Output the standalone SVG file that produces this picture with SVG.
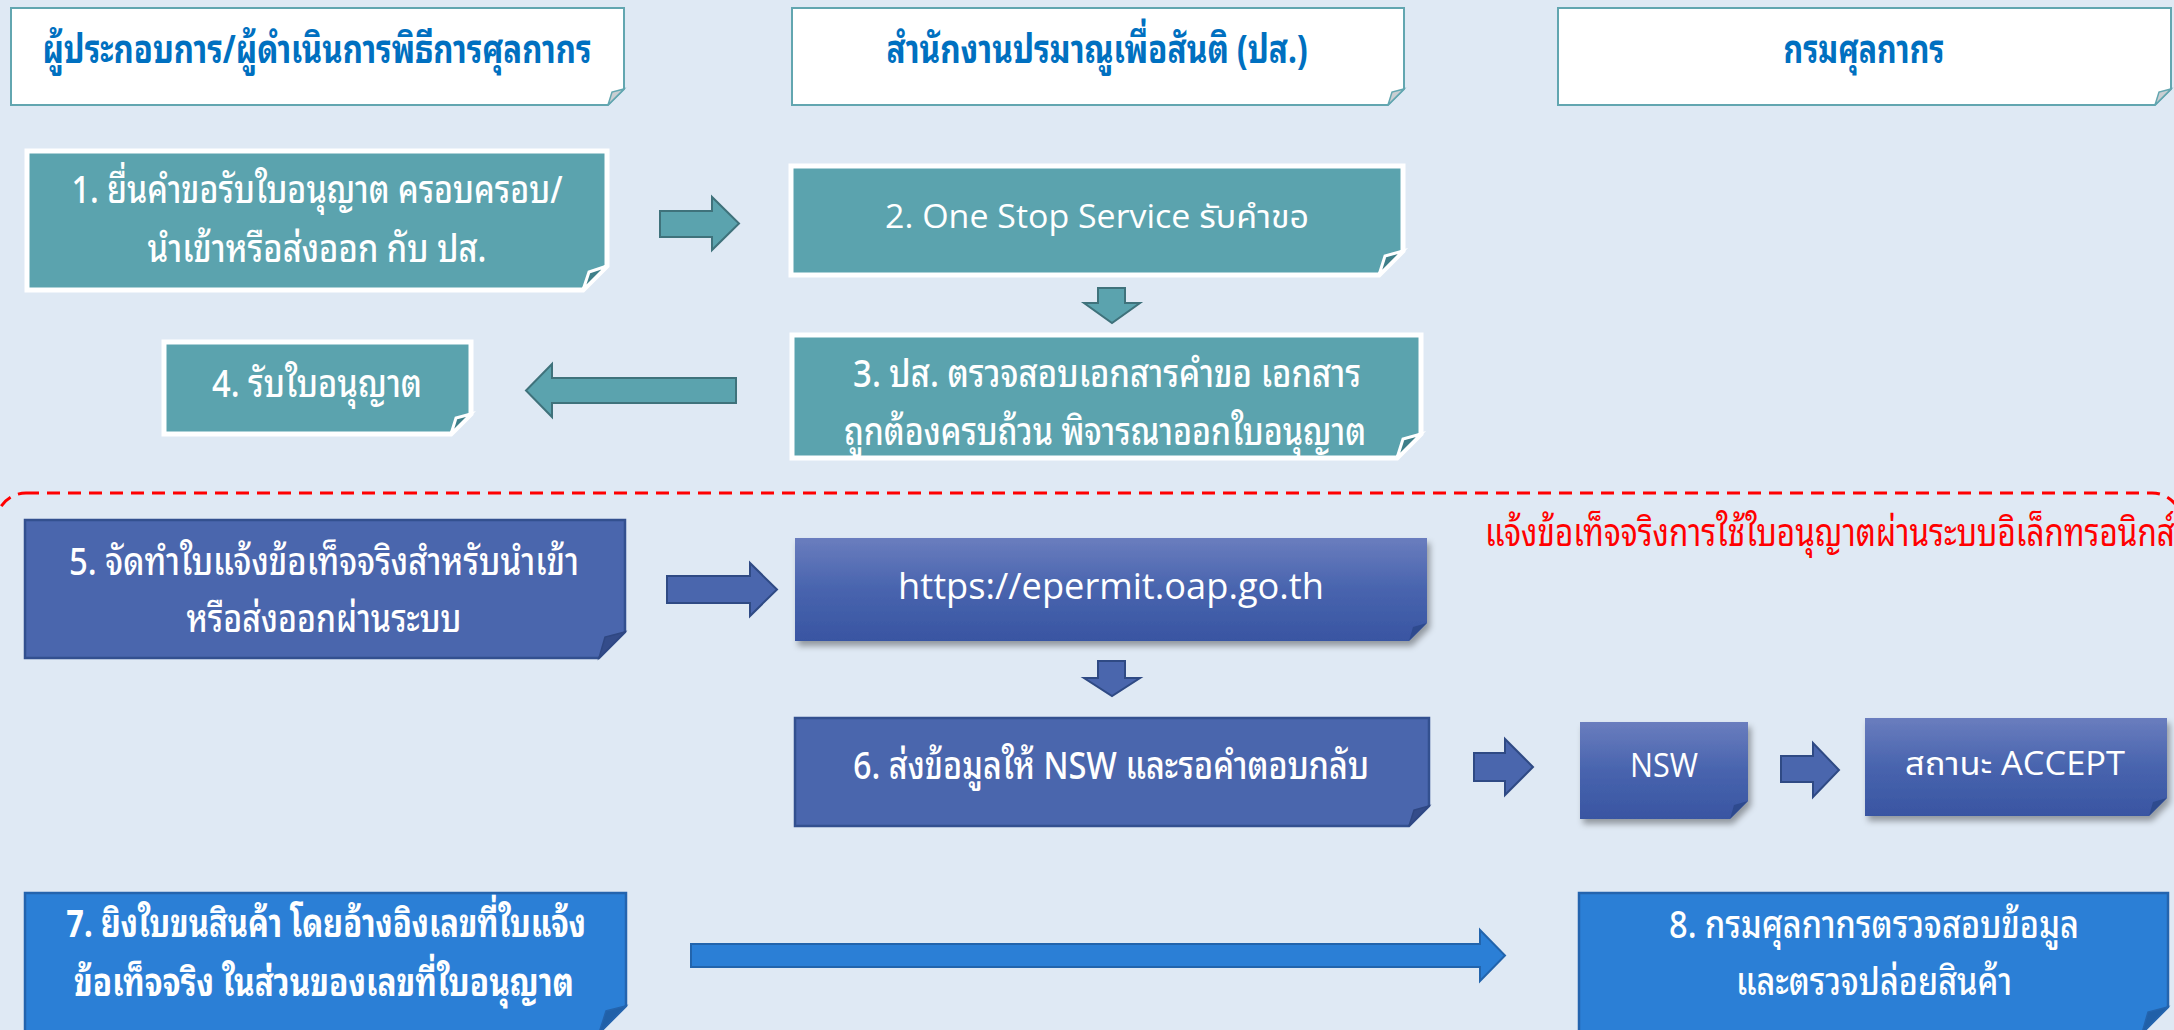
<svg xmlns="http://www.w3.org/2000/svg" width="2174" height="1030" viewBox="0 0 2174 1030">
<defs>
<linearGradient id="g" x1="0" y1="0" x2="0" y2="1">
<stop offset="0" stop-color="#6A7DBE"/>
<stop offset="0.5" stop-color="#4864AE"/>
<stop offset="1" stop-color="#3955A2"/>
</linearGradient>
<filter id="sh" x="-10%" y="-10%" width="120%" height="130%">
<feDropShadow dx="3" dy="5" stdDeviation="3" flood-color="#000" flood-opacity="0.35"/>
</filter>
<style>
.hdr{fill:#fff;stroke:#62A6B0;stroke-width:2}
.hflap{fill:#C9CED2;stroke:#62A6B0;stroke-width:1.5}
.teal{fill:#5BA3AE;stroke:#fff;stroke-width:5}
.tflap{fill:#3F7F89;stroke:#fff;stroke-width:3}
.blue{fill:#4A66AD;stroke:#33508F;stroke-width:2.5}
.bflap{fill:#344C8A;stroke:#2F4782;stroke-width:1.5}
.grad{fill:url(#g);filter:url(#sh)}
.gflap{fill:#2E4A8E}
.brt{fill:#2B7FD6;stroke:#2464AE;stroke-width:2.5}
.brflap{fill:#2060A8;stroke:#2464AE;stroke-width:1.5}
.arT{fill:#5BA3AE;stroke:#3F727B;stroke-width:2}
.arB{fill:#4A66AD;stroke:#2F4A84;stroke-width:2}
.arC{fill:#2B7FD6;stroke:#2264AC;stroke-width:2}
.th{font-family:'Noto Sans Thai Looped','Noto Sans Thai','Noto Sans','DejaVu Sans',sans-serif}
.lat{font-family:'Open Sans','Noto Sans Thai','Noto Sans',sans-serif}
.ht{fill:#0070C0;font-size:40px;font-weight:bold;text-anchor:middle}
.wt{fill:#fff;font-size:38px;font-weight:500;text-anchor:middle}
.wl{fill:#fff;font-size:32px;text-anchor:middle}
.bold{font-weight:bold}
.red{fill:#FF0000;font-size:38px}
</style>
</defs>
<rect x="0" y="0" width="2174" height="1030" fill="#DFE9F4"/>

<g id="dashed-region">
<rect x="-4" y="493" width="2186" height="700" rx="30" ry="30" fill="none" stroke="#FF0000" stroke-width="3" stroke-dasharray="13 8"/>
<text class="th red" x="1485" y="546" textLength="690" lengthAdjust="spacingAndGlyphs">แจ้งข้อเท็จจริงการใช้ใบอนุญาตผ่านระบบอิเล็กทรอนิกส์</text>
</g>

<g id="header-1">
<path class="hdr" d="M11,8 H624 V89 L608,105 H11 Z"/>
<path class="hflap" d="M624,89 L608,105 L612,92 Z"/>
<text class="th ht" x="317" y="63" textLength="549" lengthAdjust="spacingAndGlyphs">ผู้ประกอบการ/ผู้ดำเนินการพิธีการศุลกากร</text>
</g>
<g id="header-2">
<path class="hdr" d="M792,8 H1404 V89 L1388,105 H792 Z"/>
<path class="hflap" d="M1404,89 L1388,105 L1392,92 Z"/>
<text class="th ht" x="1097" y="63" textLength="421" lengthAdjust="spacingAndGlyphs">สำนักงานปรมาณูเพื่อสันติ (ปส.)</text>
</g>
<g id="header-3">
<path class="hdr" d="M1558,8 H2171 V89 L2155,105 H1558 Z"/>
<path class="hflap" d="M2171,89 L2155,105 L2159,92 Z"/>
<text class="th ht" x="1864" y="63" textLength="161" lengthAdjust="spacingAndGlyphs">กรมศุลกากร</text>
</g>

<g id="step-1">
<path class="teal" d="M27,151 H607 V266 L583,290 H27 Z"/>
<path class="tflap" d="M607,266 L583,290 L589,272 Z"/>
<text class="th wt" x="317" y="203" textLength="491" lengthAdjust="spacingAndGlyphs">1. ยื่นคำขอรับใบอนุญาต ครอบครอบ/</text>
<text class="th wt" x="317" y="262" textLength="339" lengthAdjust="spacingAndGlyphs">นำเข้าหรือส่งออก กับ ปส.</text>
</g>
<g id="step-2">
<path class="teal" d="M791,166 H1403 V251 L1379,275 H791 Z"/>
<path class="tflap" d="M1403,251 L1379,275 L1385,256 Z"/>
<text class="lat wl" x="1097" y="228" textLength="424" lengthAdjust="spacingAndGlyphs">2. One Stop Service รับคำขอ</text>
</g>
<g id="step-3">
<path class="teal" d="M792,335 H1421 V434 L1397,458 H792 Z"/>
<path class="tflap" d="M1421,434 L1397,458 L1403,439 Z"/>
<text class="th wt" x="1107" y="387" textLength="508" lengthAdjust="spacingAndGlyphs">3. ปส. ตรวจสอบเอกสารคำขอ เอกสาร</text>
<text class="th wt" x="1105" y="445" textLength="522" lengthAdjust="spacingAndGlyphs">ถูกต้องครบถ้วน พิจารณาออกใบอนุญาต</text>
</g>
<g id="step-4">
<path class="teal" d="M164,342 H471 V414 L451,434 H164 Z"/>
<path class="tflap" d="M471,414 L451,434 L456,418 Z"/>
<text class="th wt" x="317" y="397" textLength="210" lengthAdjust="spacingAndGlyphs">4. รับใบอนุญาต</text>
</g>
<g id="step-5">
<path class="blue" d="M25,520 H625 V632 L599,658 H25 Z"/>
<path class="bflap" d="M625,632 L599,658 L605,637 Z"/>
<text class="th wt" x="324" y="575" textLength="510" lengthAdjust="spacingAndGlyphs">5. จัดทำใบแจ้งข้อเท็จจริงสำหรับนำเข้า</text>
<text class="th wt" x="324" y="632" textLength="275" lengthAdjust="spacingAndGlyphs">หรือส่งออกผ่านระบบ</text>
</g>
<g id="epermit">
<path class="grad" d="M795,538 H1427 V623 L1409,641 H795 Z"/>
<path class="gflap" d="M1427,623 L1409,641 L1413,627 Z"/>
<text class="lat wl" x="1111" y="599" style="font-size:36px" textLength="426" lengthAdjust="spacingAndGlyphs">https://epermit.oap.go.th</text>
</g>
<g id="step-6">
<path class="blue" d="M795,718 H1429 V806 L1409,826 H795 Z"/>
<path class="bflap" d="M1429,806 L1409,826 L1414,810 Z"/>
<text class="th wt" x="1111" y="779" textLength="516" lengthAdjust="spacingAndGlyphs">6. ส่งข้อมูลให้ NSW และรอคำตอบกลับ</text>
</g>
<g id="nsw">
<path class="grad" d="M1580,722 H1748 V801 L1730,819 H1580 Z"/>
<path class="gflap" d="M1748,801 L1730,819 L1734,805 Z"/>
<text class="lat wl" x="1664" y="777" textLength="68" lengthAdjust="spacingAndGlyphs">NSW</text>
</g>
<g id="accept">
<path class="grad" d="M1865,718 H2167 V798 L2149,816 H1865 Z"/>
<path class="gflap" d="M2167,798 L2149,816 L2153,802 Z"/>
<text class="lat wl" x="2015" y="775" textLength="220" lengthAdjust="spacingAndGlyphs">สถานะ ACCEPT</text>
</g>
<g id="step-7">
<path class="brt" d="M25,893 H626 V1006 L599,1033 H25 Z"/>
<path class="brflap" d="M626,1006 L599,1033 L606,1011 Z"/>
<text class="th wt bold" x="326" y="937" textLength="520" lengthAdjust="spacingAndGlyphs">7. ยิงใบขนสินค้า โดยอ้างอิงเลขที่ใบแจ้ง</text>
<text class="th wt bold" x="324" y="996" textLength="500" lengthAdjust="spacingAndGlyphs">ข้อเท็จจริง ในส่วนของเลขที่ใบอนุญาต</text>
</g>
<g id="step-8">
<path class="brt" d="M1579,893 H2168 V1007 L2142,1033 H1579 Z"/>
<path class="brflap" d="M2168,1007 L2142,1033 L2148,1012 Z"/>
<text class="th wt" x="1874" y="938" textLength="410" lengthAdjust="spacingAndGlyphs">8. กรมศุลกากรตรวจสอบข้อมูล</text>
<text class="th wt" x="1874" y="995" textLength="276" lengthAdjust="spacingAndGlyphs">และตรวจปล่อยสินค้า</text>
</g>

<g id="connectors">
<polygon class="arT" points="660,211 712,211 712,197 739,223.5 712,250 712,237 660,237"/>
<polygon class="arT" points="1098,288 1125,288 1125,303 1140,303 1112,323 1084,303 1098,303"/>
<polygon class="arT" points="736,378 552,378 552,364 526,390.5 552,417 552,403 736,403"/>
<polygon class="arB" points="667,576 750,576 750,563 777,589.5 750,616 750,603 667,603"/>
<polygon class="arB" points="1098,661 1125,661 1125,678 1140,678 1112,696 1084,678 1098,678"/>
<polygon class="arB" points="1474,753 1505,753 1505,739 1533,767 1505,795 1505,781 1474,781"/>
<polygon class="arB" points="1781,756 1813,756 1813,743 1839,770 1813,797 1813,782 1781,782"/>
<polygon class="arC" points="691,944 1480,944 1480,930 1505,955.5 1480,981 1480,967 691,967"/>
</g>
</svg>
